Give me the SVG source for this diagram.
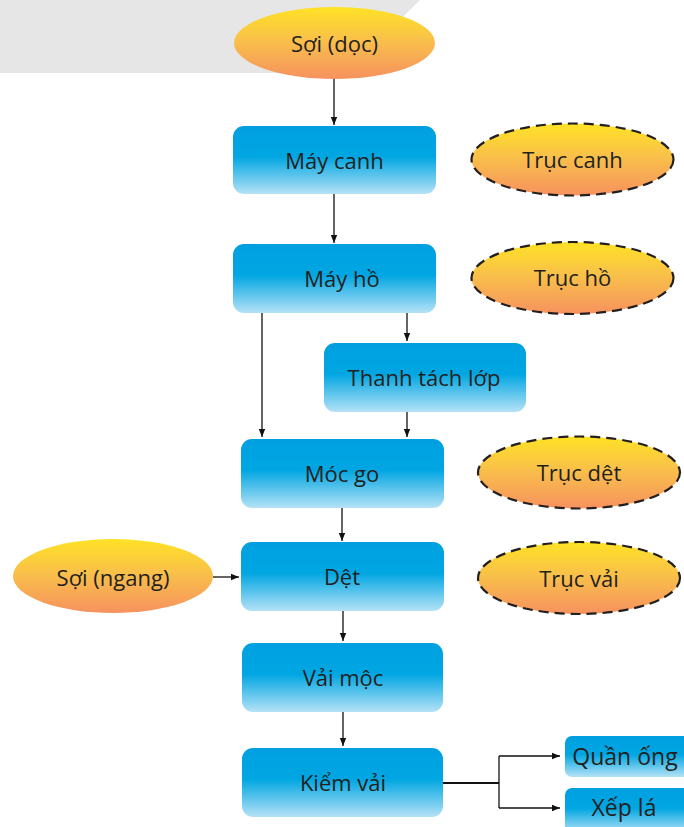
<svg xmlns="http://www.w3.org/2000/svg" width="684" height="827" viewBox="0 0 684 827">
<defs>
<linearGradient id="gBox" x1="0" y1="0" x2="0" y2="1">
<stop offset="0" stop-color="#00a0e0"/>
<stop offset="0.45" stop-color="#00a6e2"/>
<stop offset="1" stop-color="#b5e2f6"/>
</linearGradient>
<linearGradient id="gEll" x1="0" y1="0" x2="0" y2="1">
<stop offset="0" stop-color="#ffe225"/>
<stop offset="0.45" stop-color="#f9c149"/>
<stop offset="1" stop-color="#f6925f"/>
</linearGradient>
<marker id="arr" markerWidth="8" markerHeight="8" refX="8" refY="4" orient="auto" markerUnits="userSpaceOnUse">
<path d="M0,0.8 L8,4 L0,7.2 Z" fill="#111"/>
</marker>
</defs>
<style>
.box{fill:url(#gBox);}
.ell{fill:url(#gEll);}
.dash{stroke:#231f20;stroke-width:2.2;stroke-dasharray:10 6;}
text{font-family:"Open Sans","Noto Sans",sans-serif;font-size:22px;fill:#231f20;text-anchor:middle;dominant-baseline:central;}
text.big{font-size:23px;}
.ln{fill:none;stroke:#111;stroke-width:1.3;}
.ln2{fill:none;stroke:#111;stroke-width:2;}
</style>
<polygon points="0,0 420,0 346,73 0,73" fill="#e6e6e6"/>
<g id="connectors">
<line class="ln" x1="334" y1="79" x2="334" y2="125" marker-end="url(#arr)"/>
<line class="ln" x1="334" y1="194" x2="334" y2="243" marker-end="url(#arr)"/>
<line class="ln" x1="262" y1="313" x2="262" y2="437" marker-end="url(#arr)"/>
<line class="ln" x1="407" y1="313" x2="407" y2="341" marker-end="url(#arr)"/>
<line class="ln" x1="407" y1="412" x2="407" y2="437" marker-end="url(#arr)"/>
<line class="ln" x1="342" y1="508" x2="342" y2="541" marker-end="url(#arr)"/>
<line class="ln" x1="213" y1="577" x2="239" y2="577" marker-end="url(#arr)"/>
<line class="ln" x1="343" y1="611" x2="343" y2="641" marker-end="url(#arr)"/>
<line class="ln" x1="343" y1="712" x2="343" y2="746" marker-end="url(#arr)"/>
<polyline class="ln2" points="443,783 499,783"/>
<polyline class="ln" points="499,756 499,808"/>
<line class="ln" x1="499" y1="756" x2="560" y2="756" marker-end="url(#arr)"/>
<line class="ln" x1="499" y1="808" x2="560" y2="808" marker-end="url(#arr)"/>
</g>
<g id="soi-doc"><ellipse class="ell" cx="334.5" cy="43" rx="100.5" ry="36"/><text x="334.5" y="43">Sợi (dọc)</text></g>
<g id="may-canh"><rect class="box" x="233" y="126" width="203" height="68" rx="11"/><text x="334.5" y="160">Máy canh</text></g>
<g id="truc-canh"><ellipse class="ell dash" cx="572.5" cy="159.5" rx="101" ry="36"/><text x="572.5" y="159">Trục canh</text></g>
<g id="may-ho"><rect class="box" x="233" y="244" width="203" height="69" rx="11"/><text x="342" y="278">Máy hồ</text></g>
<g id="truc-ho"><ellipse class="ell dash" cx="572.5" cy="278" rx="101" ry="36"/><text x="572.5" y="277">Trục hồ</text></g>
<g id="thanh-tach-lop"><rect class="box" x="324" y="343" width="202" height="69" rx="11"/><text x="424" y="377">Thanh tách lớp</text></g>
<g id="moc-go"><rect class="box" x="241" y="439" width="203" height="69" rx="11"/><text x="342" y="473">Móc go</text></g>
<g id="truc-det"><ellipse class="ell dash" cx="579" cy="472.5" rx="101" ry="36"/><text x="579" y="472">Trục dệt</text></g>
<g id="soi-ngang"><ellipse class="ell" cx="113" cy="576" rx="100" ry="37"/><text x="113" y="577">Sợi (ngang)</text></g>
<g id="det"><rect class="box" x="241" y="542" width="203" height="69" rx="11"/><text x="342" y="576">Dệt</text></g>
<g id="truc-vai"><ellipse class="ell dash" cx="579" cy="578" rx="101" ry="36"/><text x="579" y="578">Trục vải</text></g>
<g id="vai-moc"><rect class="box" x="242" y="643" width="201" height="69" rx="11"/><text x="343" y="677">Vải mộc</text></g>
<g id="kiem-vai"><rect class="box" x="242" y="748" width="201" height="69" rx="11"/><text x="343" y="782">Kiểm vải</text></g>
<g id="quan-ong"><rect class="box" x="565" y="736" width="125" height="41" rx="7"/><text class="big" x="625" y="756">Quần ống</text></g>
<g id="xep-la"><rect class="box" x="565" y="788" width="125" height="45" rx="7"/><text class="big" x="624" y="807">Xếp lá</text></g>
</svg>
